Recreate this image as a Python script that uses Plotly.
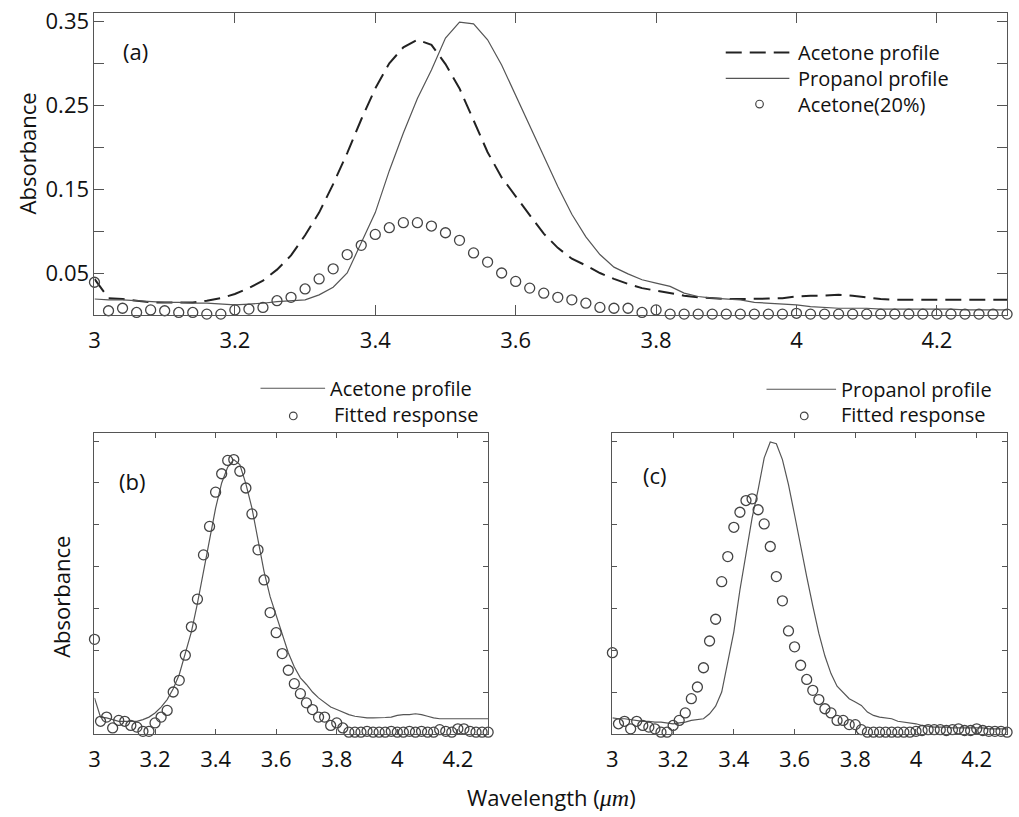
import numpy as np
import plotly.graph_objects as go

# Wavelength grid (µm), 0.02 µm steps from 3.00 to 4.30
wavelength = np.round(np.arange(3.0, 4.3001, 0.02), 2)

acetone_profile = [
    0.043, 0.020, 0.019, 0.017, 0.015, 0.015, 0.015, 0.015, 0.017, 0.020,
    0.025, 0.032, 0.041, 0.054, 0.071, 0.095, 0.122, 0.156, 0.193, 0.233,
    0.270, 0.300, 0.319, 0.328, 0.322, 0.299, 0.270, 0.232, 0.194, 0.164,
    0.141, 0.119, 0.097, 0.080, 0.067, 0.059, 0.050, 0.043, 0.037, 0.032,
    0.029, 0.026, 0.023, 0.021, 0.020, 0.019, 0.019, 0.019, 0.0195, 0.020,
    0.022, 0.023, 0.023, 0.024, 0.023, 0.021, 0.019, 0.018, 0.018, 0.018,
    0.018, 0.018, 0.018, 0.018, 0.018, 0.018,
]

propanol_profile = [
    0.019, 0.018, 0.018, 0.017, 0.016, 0.015, 0.015, 0.014, 0.014, 0.013,
    0.012, 0.013, 0.014, 0.016, 0.017, 0.018, 0.024, 0.033, 0.050, 0.085,
    0.122, 0.172, 0.217, 0.258, 0.292, 0.330, 0.349, 0.347, 0.328, 0.298,
    0.262, 0.224, 0.188, 0.153, 0.120, 0.093, 0.072, 0.057, 0.049, 0.042,
    0.038, 0.034, 0.026, 0.022, 0.020, 0.019, 0.018, 0.015, 0.014, 0.013,
    0.012, 0.010, 0.009, 0.008, 0.008, 0.008, 0.007, 0.007, 0.007, 0.007,
    0.007, 0.007, 0.006, 0.006, 0.006, 0.006,
]

acetone_20 = [
    0.039, 0.005, 0.008, 0.003, 0.006, 0.005, 0.003, 0.003, 0.001, 0.001,
    0.006, 0.007, 0.009, 0.017, 0.021, 0.031, 0.043, 0.055, 0.072, 0.083,
    0.096, 0.104, 0.110, 0.110, 0.106, 0.098, 0.089, 0.074, 0.063, 0.050,
    0.040, 0.032, 0.026, 0.021, 0.018, 0.014, 0.009, 0.008, 0.008, 0.003,
    0.006, 0.001, 0.001, 0.001, 0.001, 0.001, 0.001, 0.001, 0.001, 0.001,
    0.002, 0.001, 0.001, 0.001, 0.001, 0.001, 0.001, 0.001, 0.001, 0.001,
    0.001, 0.001, 0.001, 0.001, 0.001, 0.001,
]

fitted_acetone = [
    0.113, 0.015, 0.020, 0.007, 0.016, 0.015, 0.010, 0.008, 0.003, 0.003,
    0.013, 0.020, 0.028, 0.050, 0.064, 0.094, 0.128, 0.161, 0.214, 0.248,
    0.289, 0.311, 0.327, 0.328, 0.314, 0.294, 0.263, 0.220, 0.184, 0.145,
    0.121, 0.096, 0.076, 0.060, 0.048, 0.037, 0.029, 0.020, 0.020, 0.010,
    0.013, 0.007, 0.002, 0.002, 0.002, 0.003, 0.002, 0.002, 0.002, 0.003,
    0.002, 0.002, 0.003, 0.002, 0.003, 0.002, 0.002, 0.005, 0.003, 0.002,
    0.006, 0.006, 0.003, 0.002, 0.002, 0.002,
]

fitted_propanol = [
    0.097, 0.012, 0.015, 0.006, 0.015, 0.010, 0.008, 0.006, 0.002, 0.002,
    0.010, 0.016, 0.025, 0.042, 0.056, 0.079, 0.111, 0.137, 0.182, 0.212,
    0.247, 0.265, 0.279, 0.281, 0.268, 0.251, 0.224, 0.188, 0.159, 0.123,
    0.104, 0.082, 0.065, 0.052, 0.041, 0.030, 0.025, 0.016, 0.016, 0.011,
    0.011, 0.005, 0.002, 0.002, 0.002, 0.002, 0.002, 0.002, 0.002, 0.002,
    0.003, 0.004, 0.005, 0.005, 0.005, 0.004, 0.005, 0.006, 0.004, 0.004,
    0.006, 0.004, 0.003, 0.003, 0.003, 0.002,
]

x_ticks = [3.0, 3.2, 3.4, 3.6, 3.8, 4.0, 4.2]
x_ticklabels = ["3", "3.2", "3.4", "3.6", "3.8", "4", "4.2"]
y_ticks = [0.05, 0.10, 0.15, 0.20, 0.25, 0.30, 0.35]
y_ticklabels_a = ["0.05", "", "0.15", "", "0.25", "", "0.35"]

FONT = "Open Sans"
TEXT_COLOR = "#111111"
AXIS_COLOR = "#555555"
DASH_COLOR = "#222222"
SOLID_COLOR = "#555555"
MARKER_COLOR = "#444444"
TICK_SIZE = 22
KEY_SIZE = 20
TITLE_SIZE = 22

W, H = 1019, 817


def px(x):
    return x / W


def py(y):
    return 1 - y / H


fig = go.Figure()

dashed = dict(color=DASH_COLOR, width=2, dash="16px,8px")
solid = dict(color=SOLID_COLOR, width=1.2)
open_circle = dict(symbol="circle-open", size=10, color=MARKER_COLOR,
                   line=dict(width=1.3, color=MARKER_COLOR))

# Panel (a)
fig.add_trace(go.Scatter(x=wavelength, y=acetone_profile, mode="lines",
                         line=dashed, xaxis="x", yaxis="y", showlegend=False))
fig.add_trace(go.Scatter(x=wavelength, y=propanol_profile, mode="lines",
                         line=solid, xaxis="x", yaxis="y", showlegend=False))
fig.add_trace(go.Scatter(x=wavelength, y=acetone_20, mode="markers",
                         marker=open_circle, cliponaxis=False,
                         xaxis="x", yaxis="y", showlegend=False))

# Panel (b)
fig.add_trace(go.Scatter(x=wavelength, y=acetone_profile, mode="lines",
                         line=solid, xaxis="x2", yaxis="y2", showlegend=False))
fig.add_trace(go.Scatter(x=wavelength, y=fitted_acetone, mode="markers",
                         marker=open_circle, cliponaxis=False,
                         xaxis="x2", yaxis="y2", showlegend=False))

# Panel (c)
fig.add_trace(go.Scatter(x=wavelength, y=propanol_profile, mode="lines",
                         line=solid, xaxis="x3", yaxis="y3", showlegend=False))
fig.add_trace(go.Scatter(x=wavelength, y=fitted_propanol, mode="markers",
                         marker=open_circle, cliponaxis=False,
                         xaxis="x3", yaxis="y3", showlegend=False))


def xaxis(domain, anchor, ticklen):
    return dict(domain=domain, anchor=anchor, range=[3.0, 4.3],
                tickvals=x_ticks, ticktext=x_ticklabels,
                ticks="inside", ticklen=ticklen, tickwidth=1,
                tickcolor=AXIS_COLOR, showline=True, linecolor=AXIS_COLOR,
                linewidth=1, mirror="ticks", showgrid=False, zeroline=False,
                ticklabelstandoff=6, ticklabeloverflow="allow",
                tickfont=dict(family=FONT, size=TICK_SIZE, color=TEXT_COLOR))


def yaxis(domain, anchor, ticklen, labels):
    return dict(domain=domain, anchor=anchor, range=[0, 0.36],
                tickvals=y_ticks, ticktext=labels,
                ticks="inside", ticklen=ticklen, tickwidth=1,
                tickcolor=AXIS_COLOR, showline=True, linecolor=AXIS_COLOR,
                linewidth=1, mirror="ticks", showgrid=False, zeroline=False,
                ticklabeloverflow="allow",
                tickfont=dict(family=FONT, size=TICK_SIZE, color=TEXT_COLOR))


dom_a_x = [px(89), px(1007)]
dom_a_y = [py(310), py(5)]
dom_b_x = [px(89), px(485)]
dom_c_x = [px(610), px(1007)]
dom_bc_y = [py(733), py(429)]

blank = [""] * len(y_ticks)

fig.update_layout(
    width=W, height=H,
    margin=dict(l=0, r=0, t=0, b=0),
    paper_bgcolor="white", plot_bgcolor="white",
    font=dict(family=FONT, color=TEXT_COLOR),
    xaxis=xaxis(dom_a_x, "y", 10),
    yaxis=yaxis(dom_a_y, "x", 10, y_ticklabels_a),
    xaxis2=xaxis(dom_b_x, "y2", 5),
    yaxis2=yaxis(dom_bc_y, "x2", 5, blank),
    xaxis3=xaxis(dom_c_x, "y3", 5),
    yaxis3=yaxis(dom_bc_y, "x3", 5, blank),
)

annotations = []
shapes = []


def text(x, y, s, size=KEY_SIZE, xanchor="left", angle=0):
    annotations.append(dict(xref="paper", yref="paper", x=px(x), y=py(y),
                            text=s, showarrow=False, xanchor=xanchor,
                            yanchor="middle", textangle=angle,
                            font=dict(family=FONT, size=size, color=TEXT_COLOR)))


def key_line(x0, x1, y, style):
    shapes.append(dict(type="line", xref="paper", yref="paper",
                       x0=px(x0), x1=px(x1), y0=py(y), y1=py(y),
                       line=style))


def key_circle(x, y):
    shapes.append(dict(type="circle", xref="paper", yref="paper",
                       xsizemode="pixel", ysizemode="pixel",
                       xanchor=px(x), yanchor=py(y),
                       x0=-3.8, x1=3.8, y0=-3.8, y1=3.8,
                       line=dict(color=MARKER_COLOR, width=1.2)))


# Key for panel (a)
key_line(724, 788, 45, dict(color=DASH_COLOR, width=2, dash="16px,8px"))
key_line(724, 788, 71, dict(color=SOLID_COLOR, width=1.2))
key_circle(758, 97)
text(795, 45, "Acetone profile")
text(795, 71, "Propanol profile")
text(795, 97, "Acetone(20%)")

# Key for panel (b)
key_line(256, 321, 384, dict(color=SOLID_COLOR, width=1.2))
key_circle(289, 412)
text(324, 384, "Acetone profile")
text(328, 411, "Fitted response")

# Key for panel (c)
key_line(765, 835, 385, dict(color=SOLID_COLOR, width=1.2))
key_circle(803, 412)
text(838, 385, "Propanol profile")
text(838, 411, "Fitted response")

# Panel labels
text(116, 43, "(a)", size=22)
text(112, 478, "(b)", size=22)
text(639, 472, "(c)", size=22)

# Axis titles
text(21, 147, "Absorbance", size=TITLE_SIZE, xanchor="center", angle=-90)
text(55, 595, "Absorbance", size=TITLE_SIZE, xanchor="center", angle=-90)
text(549, 797,
     "Wavelength (<span style='font-family:Liberation Serif;font-size:24px'>"
     "<i>μm</i></span>)",
     size=22, xanchor="center")

fig.update_layout(annotations=annotations, shapes=shapes)

fig.write_html("out.html")
